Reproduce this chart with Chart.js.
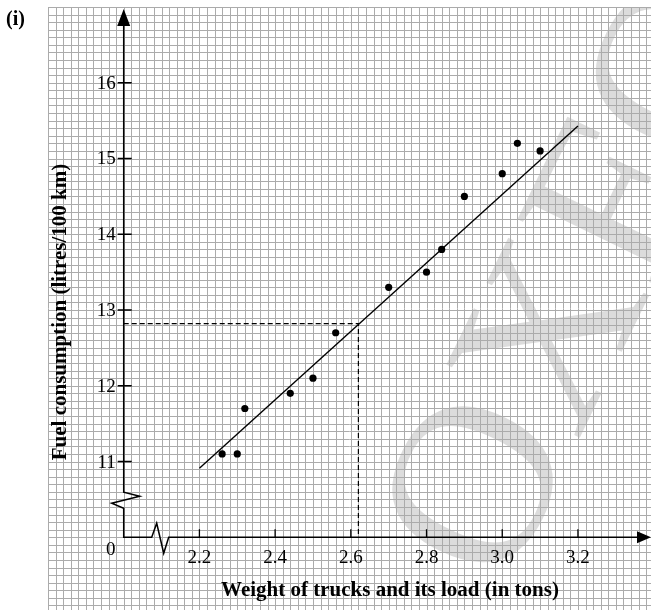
<!DOCTYPE html>
<html>
<head>
<meta charset="utf-8">
<script src="https://cdn.jsdelivr.net/npm/chart.js@4.4.0/dist/chart.umd.min.js"></script>
<style>
  html, body { margin: 0; padding: 0; background: #fff; }
  #wrap { position: relative; width: 651px; height: 610px; }
</style>
</head>
<body>
<div id="wrap"><canvas id="chart"></canvas></div>
<script>
// measured points (weight in tons, fuel in litres/100 km)
const weights = [2.26, 2.30, 2.32, 2.44, 2.50, 2.56, 2.70, 2.80, 2.84, 2.90, 3.00, 3.04, 3.10];
const fuel = [11.1, 11.1, 11.7, 11.9, 12.1, 12.7, 13.3, 13.5, 13.8, 14.5, 14.8, 15.2, 15.1];

// line of best fit, drawn by hand on the graph
const fitX = [2.2, 3.2];
const fitY = [10.91, 15.43];

// reading off the line
const readX = 2.62;
const readY = 12.82;

const xTicks = [2.2, 2.4, 2.6, 2.8, 3.0, 3.2];
const xTickLabels = ['2.2', '2.4', '2.6', '2.8', '3.0', '3.2'];
const yTicks = [11, 12, 13, 14, 15, 16];
const yTickLabels = ['11', '12', '13', '14', '15', '16'];

const xOrigin = 2.0;   // where the y axis sits (axis is broken)
const yOrigin = 10;    // where the x axis sits (axis is broken)

const xTitle = 'Weight of trucks and its load (in tons)';
const yTitle = 'Fuel consumption (litres/100 km)';
const partLabel = '(i)';

const serif = '"Liberation Serif", "DejaVu Serif", serif';

const graphPaper = {
  id: 'graphPaper',
  beforeDatasetsDraw(chart) {
    const { ctx, chartArea: a, scales: { x, y } } = chart;
    ctx.save();

    // faint publisher watermark, first "O" centred near (472, 484)
    ctx.save();
    ctx.beginPath();
    ctx.rect(a.left, a.top, a.right - a.left, a.bottom - a.top);
    ctx.clip();
    const size = 232;
    const ang = -64 * Math.PI / 180;
    ctx.font = size + 'px ' + serif;
    const u = ctx.measureText('O').width / 2;
    const v = -0.33 * size;
    const cx = 472 - (u * Math.cos(ang) - v * Math.sin(ang));
    const cy = 484 - (u * Math.sin(ang) + v * Math.cos(ang));
    ctx.translate(cx, cy);
    ctx.rotate(ang);
    ctx.fillStyle = '#dcdcdc';
    ctx.textBaseline = 'alphabetic';
    ctx.fillText('OXFORD', 0, 0);
    ctx.restore();

    // small squares: 0.02 t across, 0.1 L down
    ctx.strokeStyle = '#ababab';
    ctx.lineWidth = 1;
    ctx.beginPath();
    for (let k = 0; ; k++) {
      const val = x.min + k * 0.02;
      if (val > x.max + 1e-9) break;
      const px = Math.round(x.getPixelForValue(val)) + 0.5;
      ctx.moveTo(px, a.top);
      ctx.lineTo(px, a.bottom);
    }
    for (let k = 0; ; k++) {
      const val = y.max - k * 0.1;
      if (val < y.min - 1e-9) break;
      const py = Math.round(y.getPixelForValue(val)) + 0.5;
      ctx.moveTo(a.left, py);
      ctx.lineTo(a.right, py);
    }
    ctx.stroke();
    ctx.restore();
  },
  afterDatasetsDraw(chart) {
    const { ctx, chartArea: a, scales: { x, y } } = chart;
    const ox = x.getPixelForValue(xOrigin);
    const oy = y.getPixelForValue(yOrigin);
    ctx.save();
    ctx.strokeStyle = '#000';
    ctx.fillStyle = '#000';
    ctx.lineWidth = 1.5;

    // y axis with break near the bottom
    ctx.beginPath();
    ctx.moveTo(ox, 22);
    ctx.lineTo(ox, oy - 45);
    ctx.lineTo(ox + 16, oy - 41);
    ctx.lineTo(ox - 12, oy - 34);
    ctx.lineTo(ox, oy - 29);
    ctx.lineTo(ox, oy);
    // x axis with break near the left
    ctx.lineTo(ox + 28, oy);
    ctx.lineTo(ox + 33, oy - 14);
    ctx.lineTo(ox + 40, oy + 16);
    ctx.lineTo(ox + 45, oy);
    ctx.lineTo(a.right - 12, oy);
    ctx.stroke();

    // arrow heads
    ctx.beginPath();
    ctx.moveTo(ox, 9);
    ctx.lineTo(ox - 6.5, 26);
    ctx.lineTo(ox + 6.5, 26);
    ctx.closePath();
    ctx.fill();
    ctx.beginPath();
    ctx.moveTo(a.right, oy);
    ctx.lineTo(a.right - 14, oy - 6);
    ctx.lineTo(a.right - 14, oy + 6);
    ctx.closePath();
    ctx.fill();

    // ticks
    ctx.lineWidth = 1.3;
    ctx.beginPath();
    yTicks.forEach(v => {
      const py = y.getPixelForValue(v);
      ctx.moveTo(ox - 6, py);
      ctx.lineTo(ox + 8, py);
    });
    xTicks.forEach(v => {
      const px = x.getPixelForValue(v);
      ctx.moveTo(px, oy - 8);
      ctx.lineTo(px, oy);
    });
    ctx.stroke();

    // tick labels
    ctx.font = '19px ' + serif;
    ctx.textAlign = 'right';
    ctx.textBaseline = 'middle';
    yTicks.forEach((v, i) => ctx.fillText(yTickLabels[i], ox - 8, y.getPixelForValue(v) + 1));
    ctx.textAlign = 'center';
    xTicks.forEach((v, i) => ctx.fillText(xTickLabels[i], x.getPixelForValue(v), oy + 21));
    ctx.fillText('0', ox - 13, oy + 13);

    // axis titles
    ctx.font = 'bold 21px ' + serif;
    ctx.fillText(xTitle, 390, oy + 53);
    ctx.save();
    ctx.translate(61, 312);
    ctx.rotate(-Math.PI / 2);
    ctx.fillText(yTitle, 0, 0);
    ctx.restore();

    ctx.font = 'bold 20px ' + serif;
    ctx.textAlign = 'left';
    ctx.fillText(partLabel, 6, 20);
    ctx.restore();
  }
};

const pointData = weights.map((w, i) => ({ x: w, y: fuel[i] }));
const fitData = fitX.map((v, i) => ({ x: v, y: fitY[i] }));
const readData = [{ x: xOrigin, y: readY }, { x: readX, y: readY }, { x: readX, y: yOrigin }];

new Chart(document.getElementById('chart'), {
  type: 'scatter',
  data: {
    datasets: [
      {
        label: 'Readings',
        data: pointData,
        pointRadius: 3.6,
        pointBackgroundColor: '#000',
        pointBorderWidth: 0,
        showLine: false
      },
      {
        label: 'Best fit',
        data: fitData,
        showLine: true,
        borderColor: '#000',
        borderWidth: 1.4,
        pointRadius: 0
      },
      {
        label: 'Reading',
        data: readData,
        showLine: true,
        borderColor: '#000',
        borderWidth: 1.2,
        borderDash: [5, 3],
        pointRadius: 0
      }
    ]
  },
  options: {
    responsive: true,
    maintainAspectRatio: false,
    animation: false,
    layout: { autoPadding: false, padding: { left: 48, top: 7, right: 0, bottom: 0 } },
    scales: {
      x: { type: 'linear', min: 1.8, max: 3.393, display: false },
      y: { type: 'linear', min: 9.04, max: 17.0, display: false }
    },
    plugins: {
      legend: { display: false },
      tooltip: { enabled: false }
    }
  },
  plugins: [graphPaper]
});
</script>
</body>
</html>
